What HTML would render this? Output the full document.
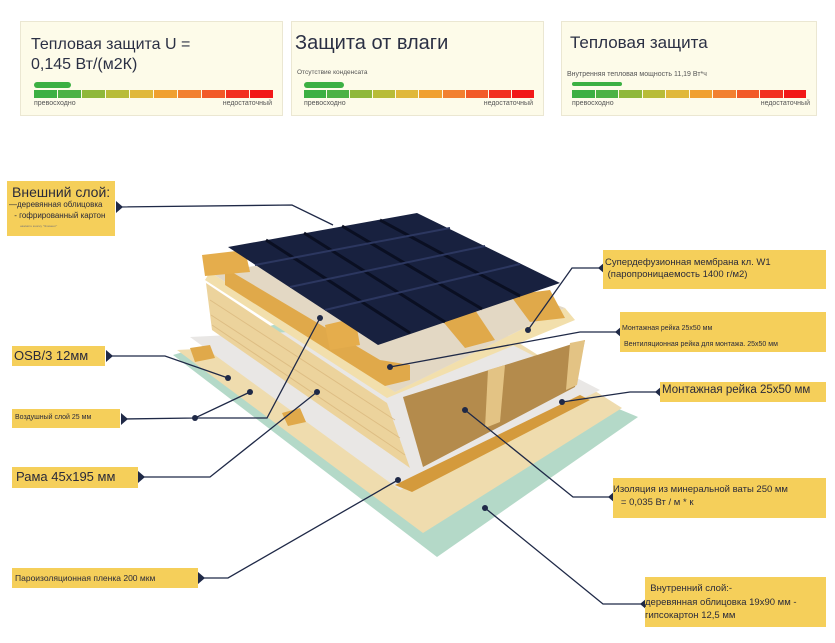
<!DOCTYPE html>
<html><head><meta charset="utf-8"><style>
body{margin:0;width:835px;height:643px;background:#fff;overflow:hidden;position:relative;font-family:"Liberation Sans",sans-serif;color:#2a2a3a}
.card{position:absolute;top:21px;height:95px;background:#fdfbe9;border:1px solid #ebe7d2;box-sizing:border-box}
.lbl{position:absolute;background:#f5cf5a;box-sizing:border-box;color:#2a2a3a;white-space:nowrap}
.bar{position:absolute;height:8px;display:flex;gap:1px}
.bar i{flex:1;display:block}
.ind{position:absolute;height:6px;background:#3cb043;border-radius:3px}
.sm{position:absolute;font-size:7px;color:#555}
</style></head><body>

<div class="card" style="left:20px;width:263px">
 <div style="position:absolute;left:10px;top:13px;font-size:16px;line-height:20px;color:#2b3044">Тепловая защита U =<br>0,145 Вт/(м2К)</div>
 <div class="ind" style="left:13px;top:60px;width:37px"></div>
 <div class="bar" style="left:13px;top:68px;width:239px"><i style="background:#3cb043"></i><i style="background:#4cb244"></i><i style="background:#8fb83a"></i><i style="background:#b8bc38"></i><i style="background:#e0b83a"></i><i style="background:#f0a030"></i><i style="background:#f28030"></i><i style="background:#f25a28"></i><i style="background:#f23020"></i><i style="background:#f21818"></i></div>
 <div class="sm" style="left:13px;top:78px">превосходно</div><div class="sm" style="right:10px;top:78px">недостаточный</div>
</div>
<div class="card" style="left:291px;width:253px">
 <div style="position:absolute;left:3px;top:10px;font-size:20px;color:#2b3044">Защита от влаги</div>
 <div class="sm" style="left:5px;top:47px;font-size:6.5px">Отсутствие конденсата</div>
 <div class="ind" style="left:12px;top:60px;width:40px"></div>
 <div class="bar" style="left:12px;top:68px;width:230px"><i style="background:#3cb043"></i><i style="background:#4cb244"></i><i style="background:#8fb83a"></i><i style="background:#b8bc38"></i><i style="background:#e0b83a"></i><i style="background:#f0a030"></i><i style="background:#f28030"></i><i style="background:#f25a28"></i><i style="background:#f23020"></i><i style="background:#f21818"></i></div>
 <div class="sm" style="left:12px;top:78px">превосходно</div><div class="sm" style="right:10px;top:78px">недостаточный</div>
</div>
<div class="card" style="left:561px;width:256px">
 <div style="position:absolute;left:8px;top:11px;font-size:17px;color:#2b3044">Тепловая защита</div>
 <div class="sm" style="left:5px;top:49px;font-size:7px">Внутренняя тепловая мощность 11,19 Вт*ч</div>
 <div class="ind" style="left:10px;top:60px;width:50px;height:4px"></div>
 <div class="bar" style="left:10px;top:68px;width:234px"><i style="background:#3cb043"></i><i style="background:#4cb244"></i><i style="background:#8fb83a"></i><i style="background:#b8bc38"></i><i style="background:#e0b83a"></i><i style="background:#f0a030"></i><i style="background:#f28030"></i><i style="background:#f25a28"></i><i style="background:#f23020"></i><i style="background:#f21818"></i></div>
 <div class="sm" style="left:10px;top:78px">превосходно</div><div class="sm" style="right:6px;top:78px">недостаточный</div>
</div>

<svg width="835" height="643" style="position:absolute;left:0;top:0">
 <polygon points="173,355 357,300 638,417 437,557" fill="#b4d9c8"/>
 <polygon points="177,350 503,333 622,408 423,533" fill="#efdcae"/>
 <polygon points="190,337 470,323 600,390 400,490" fill="#e9e7e5"/>
 <polygon points="395,485 405,480 580,395 590,400 412,492" fill="#d49a3c"/>
 <polygon points="190,348 210,345 215,358 195,362" fill="#e0a94a"/>
 <polygon points="282,413 300,408 306,422 288,426" fill="#e0a94a"/>
 <!-- wood block front-left face -->
 <polygon points="206,283 387,403 410,468 212,330" fill="#ecd39c"/>
 <g stroke="#d8b57a" stroke-width="1" opacity="0.7">
  <line x1="210" y1="300" x2="395" y2="420"/>
  <line x1="211" y1="315" x2="400" y2="438"/>
  <line x1="212" y1="325" x2="405" y2="455"/>
 </g>
 <polygon points="403,397 585,340 575,387 423,467" fill="#b48b4c"/>
 <polygon points="488,370 505,365 500,422 485,428" fill="#e3c384"/>
 <polygon points="570,343 585,340 577,385 566,390" fill="#e3c384"/>
 <polygon points="205,280 387,398 575,320 565,308 395,392 210,272" fill="#f2dfac"/>
 <polygon points="210,272 395,392 565,308 450,265 300,260" fill="#e3d8c4"/>
 <polygon points="225,268 380,360 410,365 410,380 385,386 225,285" fill="#e0a94a"/>
 <polygon points="202,255 245,250 250,272 205,276" fill="#e5ad4c"/>
 <polygon points="325,325 355,318 360,345 330,350" fill="#e5ad4c"/>
 <polygon points="440,318 475,310 495,340 465,348" fill="#e0a94a"/>
 <polygon points="510,295 550,290 565,318 530,322" fill="#e0a94a"/>
 <polygon points="228,247 417,213 560,283 378,345" fill="#18213f"/>
 <g stroke="#0a0f22" stroke-width="3" fill="none">
  <line x1="266" y1="240" x2="410" y2="333"/>
  <line x1="304" y1="233" x2="445" y2="322"/>
  <line x1="342" y1="226" x2="482" y2="309"/>
  <line x1="380" y1="220" x2="520" y2="296"/>
 </g>
 <g stroke="#2c3760" stroke-width="2" fill="none">
  <line x1="255" y1="265" x2="450" y2="228"/>
  <line x1="290" y1="287" x2="485" y2="246"/>
  <line x1="325" y1="310" x2="520" y2="264"/>
 </g>
 <g stroke="#1f2947" stroke-width="1.3" fill="none">
  <polyline points="118,207 292,205 333,225"/>
  <polyline points="108,356 165,356 228,378"/>
  <polyline points="123,419 195,418 250,392"/>
  <polyline points="195,418 267,418 320,318"/>
  <polyline points="140,477 210,477 317,392"/>
  <polyline points="200,578 228,578 398,480"/>
  <polyline points="603,268 572,268 528,330"/>
  <polyline points="620,332 580,332 390,367"/>
  <polyline points="660,392 630,392 562,402"/>
  <polyline points="613,497 573,497 465,410"/>
  <polyline points="645,604 603,604 485,508"/>
 </g>
 <g fill="#1f2947">
  <circle cx="228" cy="378" r="3"/><circle cx="250" cy="392" r="3"/><circle cx="195" cy="418" r="3"/>
  <circle cx="320" cy="318" r="3"/><circle cx="317" cy="392" r="3"/><circle cx="398" cy="480" r="3"/>
  <circle cx="528" cy="330" r="3"/><circle cx="390" cy="367" r="3"/><circle cx="562" cy="402" r="3"/>
  <circle cx="465" cy="410" r="3"/><circle cx="485" cy="508" r="3"/>
  <polygon points="116,201 116,213 123,207"/>
  <polygon points="106,350 106,362 113,356"/>
  <polygon points="121,413 121,425 128,419"/>
  <polygon points="138,471 138,483 145,477"/>
  <polygon points="198,572 198,584 205,578"/>
  <polygon points="605,262 605,274 598,268"/>
  <polygon points="622,326 622,338 615,332"/>
  <polygon points="662,386 662,398 655,392"/>
  <polygon points="615,491 615,503 608,497"/>
  <polygon points="647,598 647,610 640,604"/>
 </g>
</svg>

<div class="lbl" style="left:7px;top:181px;width:108px;height:55px;padding:3px 0 0 5px">
 <div style="font-size:14px">Внешний слой:</div>
 <div style="font-size:8px;margin-left:-3px">—деревянная облицовка</div>
 <div style="font-size:8px;margin-top:2px">&nbsp;- гофрированный картон</div>
 <div style="font-size:3px;margin:4px 0 0 8px;color:#777">нажмите кнопку "Элемент"</div>
</div>
<div class="lbl" style="left:12px;top:346px;width:93px;height:20px;font-size:13px;padding:2px 0 0 2px">OSB/3 12мм</div>
<div class="lbl" style="left:12px;top:409px;width:108px;height:19px;font-size:7px;padding:5px 0 0 3px">Воздушный слой 25 мм</div>
<div class="lbl" style="left:12px;top:467px;width:126px;height:21px;font-size:13px;padding:2px 0 0 4px">Рама 45x195 мм</div>
<div class="lbl" style="left:12px;top:568px;width:186px;height:20px;font-size:8.5px;padding:5px 0 0 3px">Пароизоляционная пленка 200 мкм</div>
<div class="lbl" style="left:603px;top:250px;width:223px;height:39px;font-size:9.5px;padding:7px 0 0 2px;line-height:12px">Супердефузионная мембрана кл. W1<br>&nbsp;(паропроницаемость 1400 г/м2)</div>
<div class="lbl" style="left:620px;top:312px;width:206px;height:40px;font-size:7px;padding:9px 0 0 2px;line-height:16px">Монтажная рейка 25x50 мм<br>&nbsp;Вентиляционная рейка для монтажа. 25x50 мм</div>
<div class="lbl" style="left:660px;top:382px;width:166px;height:20px;font-size:11.5px;padding:2px 0 0 2px">Монтажная рейка 25x50 мм</div>
<div class="lbl" style="left:613px;top:478px;width:213px;height:40px;font-size:9.5px;padding:5px 0 0 0;line-height:13px">Изоляция из минеральной ваты 250 мм<br>&nbsp;&nbsp;&nbsp;= 0,035 Вт / м * к</div>
<div class="lbl" style="left:645px;top:577px;width:181px;height:50px;font-size:9.5px;padding:5px 0 0 0;line-height:13.5px">&nbsp;&nbsp;Внутренний слой:-<br>деревянная облицовка 19x90 мм -<br>гипсокартон 12,5 мм</div>
</body></html>
